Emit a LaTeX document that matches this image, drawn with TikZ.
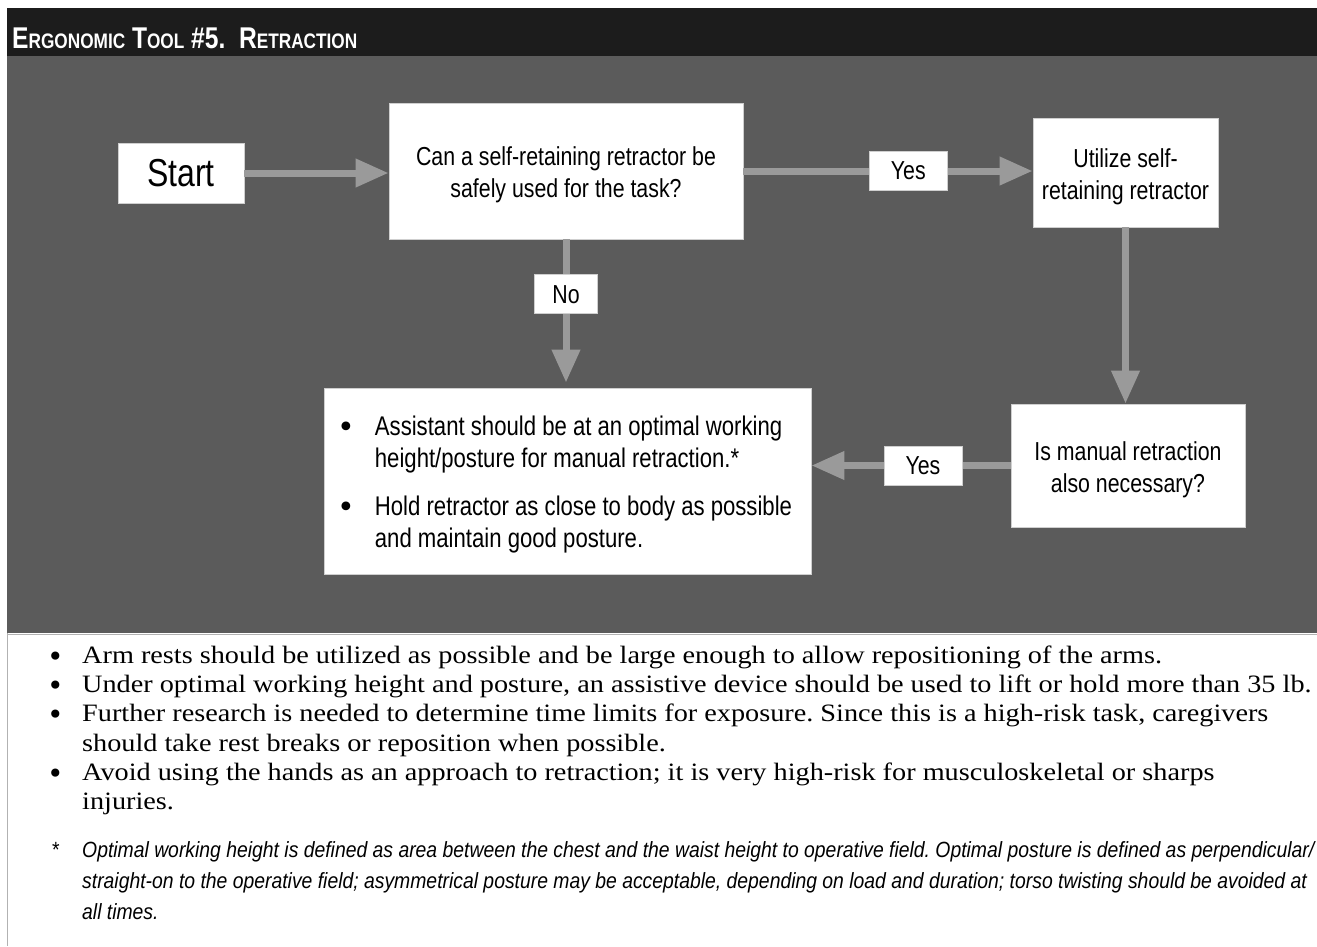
\documentclass[tikz,border=0pt]{standalone}
\usepackage{fontspec}
\usepackage{tikz}
\usetikzlibrary{arrows.meta}
\setmainfont{Liberation Serif}[FakeStretch=1.13]
\newfontfamily\condfont{Liberation Sans}[FakeStretch=0.82]
\newfontfamily\notefont{Liberation Sans}[FakeStretch=0.88]
\newfontfamily\dotfont{DejaVu Sans}
\definecolor{panel}{HTML}{5B5B5B}
\definecolor{bar}{HTML}{1C1C1C}
\definecolor{flowgray}{HTML}{9A9A9A}
\definecolor{edge}{HTML}{CFCFCF}
\frenchspacing
\newcommand{\capsc}[2]{{\fontsize{30}{30}\selectfont #1}{\fontsize{21}{21}\selectfont #2}}
\newcommand{\boxdot}[2]{\hspace*{-5pt}{\dotfont\fontsize{#1}{#1}\selectfont\raisebox{#2}{\textbullet}}}
\newcommand{\lift}{\rule{0pt}{27pt}}

\begin{document}
\begin{tikzpicture}[x=1pt,y=-1pt,>={Triangle[length=33pt,width=27pt]},
		box/.style={draw=edge,line width=0.8pt,fill=white,inner sep=0pt,align=center,font=\condfont\fontsize{26}{32}\selectfont},
		tag/.style={box,minimum width=78pt,minimum height=39pt},
		flow/.style={draw=flowgray,line width=7pt,->}]
	\useasboundingbox (0,0) rectangle (1317,946);
	\fill[white] (0,0) rectangle (1317,946);
	\fill[bar] (7,8) rectangle (1317,56);
	\fill[panel] (7,56) rectangle (1317,633);
	\draw[gray!60,line width=1.5pt] (7,634.5) -- (1317,634.5);
	\draw[gray!60,line width=1pt] (7.5,633) -- (7.5,946);
	\node[anchor=base west,inner sep=0pt,text=white,font=\condfont\bfseries\fontsize{30}{30}\selectfont] (title) at (12,48) {\capsc{E}{RGONOMIC} \capsc{T}{OOL} \capsc{\#5.}{}\ \ \capsc{R}{ETRACTION}};
	
	\node[box,minimum width=126pt,minimum height=60pt,font=\condfont\fontsize{39}{39}\selectfont] (start) at (181,173) {Start};
	\node[box,minimum width=354pt,minimum height=136pt] (ask) at (566,171) {\lift Can a self-retaining retractor be\\safely used for the task?};
	\node[box,minimum width=185pt,minimum height=109pt] (self) at (1125.5,172.5) {\lift Utilize self-\\retaining retractor};
	\node[box,minimum width=234pt,minimum height=123pt] (manual) at (1128,465.5) {\lift Is manual retraction\\also necessary?};
	\node[box,minimum width=487pt,minimum height=186pt,align=left,font=\condfont\fontsize{27}{32}\selectfont] (hold) at (567.5,481) {\raisebox{-4pt}[\height][\depth]{\begin{tabular}{@{}p{32pt}@{}l@{}}
		\boxdot{30}{-2pt} & Assistant should be at an optimal working\\
		& height/posture for manual retraction.*\\[16pt]
		\boxdot{30}{-2pt} & Hold retractor as close to body as possible\\
		& and maintain good posture.
	\end{tabular}}};
	
	\draw[flow] (start) -- (start -| ask.west);
	\draw[flow] (ask) -- node[tag,pos=0.57] (yes1) {Yes} (ask -| self.west);
	\draw[flow,shorten >=5pt] (ask) -- node[tag,minimum width=63pt,pos=0.37] (no) {No} (ask |- hold.north);
	\draw[flow] (self) -- (self |- manual.north);
	\draw[flow] (manual.west) -- node[tag,pos=0.44] (yes2) {Yes} (manual.west -| hold.east);
	
	\node[anchor=north west,inner sep=0pt,align=left,font=\fontsize{25}{29.3}\selectfont] (notes) at (52,642.5) {\begin{tabular}{@{}p{30pt}@{}l@{}}
		\boxdot{28}{-3pt} & Arm rests should be utilized as possible and be large enough to allow repositioning of the arms.\\
		\boxdot{28}{-3pt} & Under optimal working height and posture, an assistive device should be used to lift or hold more than 35 lb.\\
		\boxdot{28}{-3pt} & Further research is needed to determine time limits for exposure. Since this is a high-risk task, caregivers\\
		& should take rest breaks or reposition when possible.\\
		\boxdot{28}{-3pt} & Avoid using the hands as an approach to retraction; it is very high-risk for musculoskeletal or sharps\\
		& injuries.
	\end{tabular}};
	\node[anchor=north west,inner sep=0pt,align=left,font=\notefont\itshape\fontsize{22}{31}\selectfont] (star) at (52,835.3) {\begin{tabular}{@{}p{30pt}@{}l@{}}
		{\upshape *} & Optimal working height is defined as area between the chest and the waist height to operative field. Optimal posture is defined as perpendicular/\\
		& straight-on to the operative field; asymmetrical posture may be acceptable, depending on load and duration; torso twisting should be avoided at\\
		& all times.
	\end{tabular}};
\end{tikzpicture}
\end{document}
